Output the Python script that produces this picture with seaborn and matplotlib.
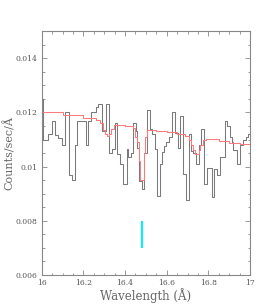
import matplotlib
matplotlib.use("Agg")
import matplotlib.pyplot as plt
from matplotlib.ticker import MultipleLocator, FixedLocator, FixedFormatter
import seaborn as sns
import pandas as pd

# observed spectrum: bin start wavelengths and counts/sec/A (last bin ends at 17.0)
obs_edges = [16.000, 16.006, 16.032, 16.048, 16.064, 16.080, 16.096, 16.114, 16.133, 16.144,
             16.158, 16.171, 16.211, 16.222, 16.238, 16.262, 16.272, 16.288, 16.307, 16.322,
             16.339, 16.350, 16.362, 16.378, 16.392, 16.408, 16.416, 16.429, 16.440, 16.452,
             16.458, 16.469, 16.480, 16.492, 16.506, 16.520, 16.530, 16.544, 16.554, 16.568,
             16.578, 16.588, 16.598, 16.610, 16.626, 16.642, 16.656, 16.666, 16.680, 16.694,
             16.708, 16.715, 16.728, 16.741, 16.757, 16.766, 16.779, 16.795, 16.816, 16.827,
             16.842, 16.855, 16.880, 16.891, 16.902, 16.915, 16.920, 16.940, 16.954, 16.966,
             16.980, 16.992, 17.000]
obs_counts = [0.0125, 0.0110, 0.0112, 0.0117, 0.01116, 0.01104, 0.0108, 0.0120, 0.0097, 0.00952,
              0.0108, 0.01169, 0.0108, 0.0117, 0.0120, 0.0122, 0.0123, 0.0113, 0.0123, 0.01052,
              0.01064, 0.0116, 0.01046, 0.01009, 0.00936, 0.01064, 0.01034, 0.01052, 0.0116, 0.0113,
              0.0107, 0.00948, 0.00918, 0.0105, 0.0121, 0.0114, 0.0112, 0.01064, 0.00893, 0.0101,
              0.01053, 0.01077, 0.0109, 0.0111, 0.0120, 0.01125, 0.0107, 0.01186, 0.00973, 0.00875,
              0.0112, 0.01058, 0.0105, 0.0101, 0.0108, 0.0114, 0.00936, 0.00994, 0.00887, 0.0099,
              0.0097, 0.01034, 0.01168, 0.0115, 0.0111, 0.0109, 0.0106, 0.0101, 0.0108, 0.0110,
              0.0111, 0.0112, 0.0112]

# model spectrum
model_wave = [16.000, 16.100, 16.200, 16.260, 16.280, 16.295, 16.305, 16.315, 16.325, 16.335,
              16.345, 16.360, 16.400, 16.440, 16.450, 16.458, 16.466, 16.472, 16.490, 16.498,
              16.506, 16.550, 16.600, 16.650, 16.690, 16.705, 16.715, 16.725, 16.735, 16.755,
              16.762, 16.775, 16.790, 16.850, 16.900, 16.950, 17.000]
model_flux = [0.01201, 0.01190, 0.01180, 0.01172, 0.0116, 0.01135, 0.0112, 0.01112, 0.0112, 0.0114,
              0.01152, 0.01154, 0.01148, 0.01142, 0.0111, 0.0109, 0.0102, 0.0095, 0.0105, 0.0111,
              0.01135, 0.01132, 0.01126, 0.0112, 0.01114, 0.0110, 0.0108, 0.0106, 0.01045, 0.0106,
              0.0108, 0.01098, 0.01102, 0.01095, 0.01088, 0.01082, 0.01077]

# line marker
line_wave = 16.483
line_range = (0.007, 0.008)

xticks = [16.0, 16.2, 16.4, 16.6, 16.8, 17.0]
xticklabels = ["16", "16.2", "16.4", "16.6", "16.8", "17"]
yticks = [0.006, 0.008, 0.010, 0.012, 0.014]
yticklabels = ["0.006", "0.008", "0.01", "0.012", "0.014"]

sns.set_style("ticks")
plt.rcParams['font.family'] = ['DejaVu Serif']

fig = plt.figure(figsize=(2.77, 3.05), dpi=100)
ax = fig.add_axes([0.1505, 0.0984, 0.752, 0.7996])

obs_df = pd.DataFrame({"wave": obs_edges, "counts": obs_counts})
model_df = pd.DataFrame({"wave": model_wave, "flux": model_flux})

sns.lineplot(data=obs_df, x="wave", y="counts", ax=ax, color="#7a7a7a", lw=0.75,
             drawstyle="steps-post", sort=False, estimator=None)
sns.lineplot(data=model_df, x="wave", y="flux", ax=ax, color="#ff7a7a", lw=0.75,
             drawstyle="steps-post", sort=False, estimator=None)
ax.vlines(line_wave, line_range[0], line_range[1], color="#00f0ff", lw=1.5)

ax.set_xlim(16, 17)
ax.set_ylim(0.006, 0.015)

ax.xaxis.set_major_locator(FixedLocator(xticks))
ax.xaxis.set_major_formatter(FixedFormatter(xticklabels))
ax.xaxis.set_minor_locator(MultipleLocator(0.05))
ax.yaxis.set_major_locator(FixedLocator(yticks))
ax.yaxis.set_major_formatter(FixedFormatter(yticklabels))
ax.yaxis.set_minor_locator(MultipleLocator(0.0005))

ax.tick_params(which="both", direction="in", top=True, right=True, colors="#888888",
               labelcolor="#555555", labelsize=5.5, width=0.6)
ax.tick_params(which="major", length=3.5, pad=3)
ax.tick_params(which="minor", length=1.8)
for s in ax.spines.values():
    s.set_color("#888888")
    s.set_linewidth(0.8)

ax.set_xlabel("Wavelength (Å)", fontsize=8.5, color="#666666", labelpad=1)
ax.set_ylabel("Counts/sec/Å", fontsize=8, color="#666666")
ax.yaxis.set_label_coords(-0.13, 0.5)

fig.savefig("out.png", dpi=100)
